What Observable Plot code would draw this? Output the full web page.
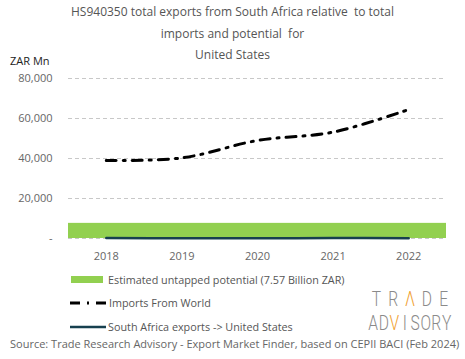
<!DOCTYPE html>
<html><head><meta charset="utf-8">
<script src="https://cdn.jsdelivr.net/npm/d3@7"></script>
<script src="https://cdn.jsdelivr.net/npm/@observablehq/plot@0.6"></script>
<style>
body{margin:0;background:#fff;font-family:"Open Sans",sans-serif;}
#wrap{position:relative;width:465px;height:359px;overflow:hidden;}
.t{position:absolute;white-space:nowrap;color:#555;}
</style></head><body>
<div id="wrap"></div>
<script>
const titleLines = ["HS940350 total exports from South Africa relative  to total", "imports and potential  for", "United States"];
const years = [2018, 2019, 2020, 2021, 2022];
const importsFromWorld = [39000, 40300, 49000, 53200, 64500];
const saExports = [250, 150, 120, 200, 180];
const untappedPotential = 7570;
const yTicks = [0, 20000, 40000, 60000, 80000];
const legendLabels = ["Estimated untapped potential (7.57 Billion ZAR)", "Imports From World", "South Africa exports -> United States"];
const sourceText = "Source: Trade Research Advisory - Export Market Finder, based on CEPII BACI (Feb 2024)";
const unitLabel = "ZAR Mn";
const logoLines = ["TRΛDE", "ADVISORY"];
const logoAccent = [2, 2];

const green = "#92d050", dark = "#17404f";
const imports = years.map((y, i) => ({year: y, value: importsFromWorld[i]}));
const exportsD = years.map((y, i) => ({year: y, value: saExports[i]}));
const potential = [{x1: d3.min(years) - 0.5, x2: d3.max(years) + 0.5, value: untappedPotential}];

const plot = Plot.plot({
  width: 465, height: 265,
  marginTop: 78, marginBottom: 27, marginLeft: 68, marginRight: 19,
  style: {fontFamily: "Open Sans, sans-serif", fontSize: "11px", color: "#666", background: "transparent"},
  x: {domain: [d3.min(years) - 0.5, d3.max(years) + 0.5], ticks: years, tickFormat: "d", tickSize: 0, tickPadding: 14, label: null},
  y: {domain: [0, 80000], ticks: yTicks, tickFormat: d => d === 0 ? "-" : d3.format(",")(d), tickSize: 0, tickPadding: 16, label: null},
  marks: [
    Plot.gridY(yTicks, {stroke: "#c8c8c8", strokeOpacity: 1, strokeDasharray: "4,3"}),
    Plot.rectY(potential, {x1: "x1", x2: "x2", y: "value", fill: green}),
    Plot.line(exportsD, {x: "year", y: "value", stroke: dark, strokeWidth: 2.5, curve: "catmull-rom"}),
    Plot.line(imports, {x: "year", y: "value", stroke: "#000", strokeWidth: 3, strokeDasharray: "10,7,2,7", curve: "catmull-rom"})
  ]
});
plot.style.position = "absolute"; plot.style.left = "0px"; plot.style.top = "0px";
const wrap = document.getElementById("wrap");
wrap.appendChild(plot);

function addText(txt, css) {
  const d = document.createElement("div");
  d.className = "t"; d.textContent = txt;
  Object.assign(d.style, css);
  wrap.appendChild(d);
  return d;
}
titleLines.forEach((l, i) => addText(l, {left: "0px", width: "465px", textAlign: "center", top: (3 + i * 21.5) + "px", fontSize: "12px", color: "#555", whiteSpace: "pre"}));
addText(unitLabel, {left: "10px", top: "53px", fontSize: "11px", color: "#222"});

// legend
const NS = "http://www.w3.org/2000/svg";
const lg = document.createElementNS(NS, "svg");
lg.setAttribute("width", 465); lg.setAttribute("height", 70);
lg.style.position = "absolute"; lg.style.left = "0px"; lg.style.top = "265px";
lg.innerHTML = `
<rect x="71" y="11" width="32" height="7" fill="${green}"/>
<line x1="70" x2="106" y1="38" y2="38" stroke="#000" stroke-width="3" stroke-dasharray="10,7,2,7"/>
<line x1="70" x2="106" y1="62" y2="62" stroke="${dark}" stroke-width="2.5"/>
<g font-family="Open Sans, sans-serif" font-size="10.8" fill="#555">
<text x="108" y="18.5">${legendLabels[0]}</text>
<text x="109" y="42">${legendLabels[1]}</text>
<text x="108" y="66">${legendLabels[2].replace(">", "&gt;")}</text>
</g>`;
wrap.appendChild(lg);
// logo: one text per letter, condensed horizontally
const sx = 0.78, logoX = 368, logoW = 84, baselines = [41, 65];
const logoG = document.createElementNS(NS, "g");
logoG.setAttribute("transform", `translate(${logoX},0) scale(${sx},1)`);
logoG.setAttribute("font-family", "Roboto, sans-serif");
logoG.setAttribute("font-weight", "300");
logoG.setAttribute("font-size", "20");
logoG.setAttribute("text-anchor", "middle");
lg.appendChild(logoG);
logoLines.forEach((word, li) => {
  const step = (logoW / sx) / word.length;
  [...word].forEach((ch, ci) => {
    const t = document.createElementNS(NS, "text");
    t.textContent = ch;
    t.setAttribute("x", step * (ci + 0.5));
    t.setAttribute("y", baselines[li]);
    t.setAttribute("fill", ci === logoAccent[li] ? "#f0a030" : "#8a8a8a");
    logoG.appendChild(t);
  });
});
addText(sourceText, {left: "10px", top: "336px", fontSize: "11px", color: "#666"});
</script>
</body></html>
